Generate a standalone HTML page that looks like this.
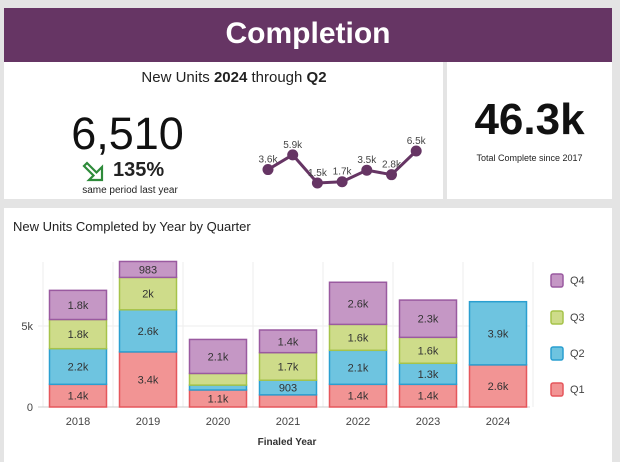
<!DOCTYPE html>
<html><head><meta charset="utf-8"><style>
body{margin:0;width:620px;height:462px;background:#e4e4e4;font-family:"Liberation Sans",sans-serif;position:relative;overflow:hidden}
.abs{position:absolute}
</style></head><body>
<div class="abs" style="left:4px;top:8px;width:608px;height:54px;background:#663564;color:#fff;font-size:30px;font-weight:bold;text-align:center;line-height:52px">Completion</div>
<div class="abs" style="left:4px;top:62px;width:439px;height:137px;background:#fff"></div>
<div class="abs" style="left:447px;top:62px;width:165px;height:137px;background:#fff"></div>
<div class="abs" style="left:4px;top:69px;width:460px;text-align:center;font-size:15px;color:#222">New Units <b>2024</b> through <b>Q2</b></div>
<div class="abs" style="left:60px;top:108px;width:135px;text-align:center;font-size:45px;color:#111">6,510</div>
<svg class="abs" style="left:82px;top:160px" width="24" height="22"><polygon points="20,20 7,20 11.5,15.5 2,6 5,3 14.5,12.5 20,7" fill="#fff" stroke="#2e8b3a" stroke-width="2.2" stroke-linejoin="miter"/></svg>
<div class="abs" style="left:113px;top:159px;font-size:20px;font-weight:bold;color:#222">135%</div>
<div class="abs" style="left:60px;top:185px;width:140px;text-align:center;font-size:10px;color:#222">same period last year</div>
<svg class="abs" id="spark" style="left:0;top:0" width="620" height="210"></svg>
<div class="abs" style="left:447px;top:95px;width:165px;text-align:center;font-size:44px;font-weight:bold;color:#111">46.3k</div>
<div class="abs" style="left:447px;top:153px;width:165px;text-align:center;font-size:9px;color:#222">Total Complete since 2017</div>
<div class="abs" style="left:4px;top:208px;width:608px;height:254px;background:#fff"></div>
<div class="abs" style="left:13px;top:219px;font-size:13px;color:#222">New Units Completed by Year by Quarter</div>
<svg class="abs" id="chart" style="left:0;top:0" width="620" height="462"></svg>
<script>
const sparkVals=[3.6,5.9,1.5,1.7,3.5,2.8,6.5];
const sparkLabels=["3.6k","5.9k","1.5k","1.7k","3.5k","2.8k","6.5k"];
const years=["2018","2019","2020","2021","2022","2023","2024"];
const q1=[1400,3400,1050,750,1400,1400,2600];
const q2=[2200,2600,300,903,2100,1300,3900];
const q3=[1800,2000,720,1700,1600,1600,0];
const q4=[1800,983,2100,1400,2600,2300,0];
const q1Labels=["1.4k","3.4k","1.1k","","1.4k","1.4k","2.6k"];
const q2Labels=["2.2k","2.6k","","903","2.1k","1.3k","3.9k"];
const q3Labels=["1.8k","2k","","1.7k","1.6k","1.6k",""];
const q4Labels=["1.8k","983","2.1k","1.4k","2.6k","2.3k",""];
const yTicks=[0,5000];
const yTickLabels=["0","5k"];
const NS="http://www.w3.org/2000/svg";
function mk(p,t,a){const e=document.createElementNS(NS,t);for(const k in a)e.setAttribute(k,a[k]);p.appendChild(e);return e;}
const sp=document.getElementById('spark');
const sx=i=>268+i*24.7, sy=v=>183-(v-1.5)*6.4;
let d=sparkVals.map((v,i)=>(i?'L':'M')+sx(i)+' '+sy(v)).join(' ');
const pl=mk(sp,'path',{d:d,fill:'none',stroke:'#663564','stroke-width':3});


sparkVals.forEach((v,i)=>{
 const c=mk(sp,'circle',{cx:sx(i),cy:sy(v),r:5.5,fill:'#663564'});
 
 
 const t=mk(sp,'text',{x:sx(i),y:sy(v)-7,'text-anchor':'middle','font-size':10,fill:'#444'});t.textContent=sparkLabels[i];
 
 
});
const ch=document.getElementById('chart');
const x0=38,x1=530,y0=407,k=81/5000,step=70,bw=57;
const X=i=>78+i*step, Y=v=>y0-v*k;
for(let i=0;i<8;i++){const gx=X(i)-step/2;const g=mk(ch,'line',{x1:gx,x2:gx,y1:262,y2:y0,stroke:'#eee'});}
yTicks.forEach((v,i)=>{
 const g=mk(ch,'line',{x1:x0,x2:x1,y1:Y(v),y2:Y(v),stroke:i?'#eee':'#ccc'});
 
 
 const t=mk(ch,'text',{x:33,y:Y(v)+4,'text-anchor':'end','font-size':11,fill:'#444'});t.textContent=yTickLabels[i];
 
 
});
const series=[[q1,q1Labels,'#f29494','#e5575c','q1'],[q2,q2Labels,'#6ec4e0','#2a9fd0','q2'],[q3,q3Labels,'#cedc8a','#a6c34a','q3'],[q4,q4Labels,'#c597c5','#9a5aa0','q4']];
years.forEach((yr,i)=>{
 let base=0;
 series.forEach(s=>{
  const v=s[0][i]; if(!v)return;
  const r=mk(ch,'rect',{x:X(i)-bw/2,y:Y(base+v),width:bw,height:v*k,fill:s[2],stroke:s[3],'stroke-width':1.5});
  
  
  if(s[1][i]){const t=mk(ch,'text',{x:X(i),y:Y(base+v/2)+4,'text-anchor':'middle','font-size':11,fill:'#333'});t.textContent=s[1][i];
   
   }
  base+=v;
 });
 const t=mk(ch,'text',{x:X(i),y:425,'text-anchor':'middle','font-size':11,fill:'#444'});t.textContent=yr;
 
 
});
const xt=mk(ch,'text',{x:287,y:445,'text-anchor':'middle','font-size':10,'font-weight':'bold',fill:'#333'});xt.textContent='Finaled Year';


const leg=[['Q4',3,280],['Q3',2,317],['Q2',1,353],['Q1',0,389]];
leg.forEach(l=>{const s=series[l[1]];
 const r=mk(ch,'rect',{x:551,y:l[2]-6,width:12,height:13,rx:2,fill:s[2],stroke:s[3],'stroke-width':1.5});
 
 
 const t=mk(ch,'text',{x:570,y:l[2]+4,'font-size':11,fill:'#444'});t.textContent=l[0];
 
 
});
</script>
</body></html>
